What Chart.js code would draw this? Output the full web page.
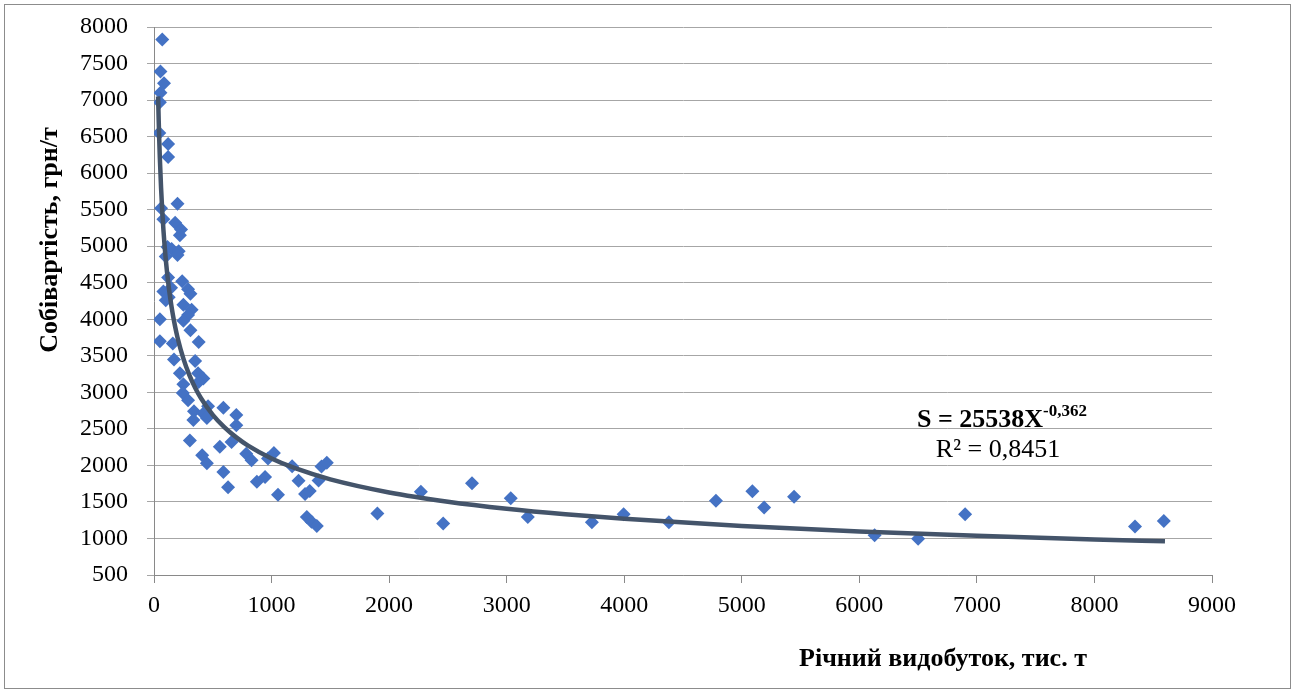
<!DOCTYPE html>
<html lang="uk">
<head>
  <meta charset="UTF-8" />
  <title>Собівартість vs річний видобуток</title>
  <style>
    body { margin: 0; background: #fff; }
    #wrap { position: relative; width: 1293px; height: 691px; }
    #frame { position: absolute; left: 4px; top: 4px; width: 1285px; height: 683px; border: 1px solid #8c8c8c; pointer-events: none; }
    canvas { position: absolute; left: 0; top: 0; }
  </style>
</head>
<body>
  <div id="wrap">
    <canvas id="chart" width="1293" height="691"></canvas>
    <div id="frame"></div>
  </div>

  <script src="https://cdn.jsdelivr.net/npm/chart.js"></script>
  <script>
    // річний видобуток, тис. т
    const output = [
      70, 55, 85, 55, 50, 45, 120, 120,
      200, 60, 80, 180, 230, 220,
      115, 150, 210, 100, 200,
      120, 240, 80, 145, 290, 310, 125, 250, 100,
      320, 290, 50, 250, 310, 50, 160, 380,
      170, 350, 220, 375, 420, 250, 245, 380,
      290, 460, 590, 340, 420, 700, 335, 450, 700,
      305, 560, 660, 410, 450, 785, 830, 1020, 970,
      590, 630, 875, 945, 1055,
      1175, 1230, 1285, 1325, 1400, 1425, 1470,
      1300, 1340, 1385,
      1900, 2270, 2460, 2705, 3035, 3180, 3725, 3995, 4380,
      4780, 5090, 5190, 5445, 6130, 6500, 6900, 8345, 8590
    ];
    // собівартість, грн/т
    const cost = [
      7830, 7390, 7230, 7100, 6970, 6550, 6400, 6220,
      5580, 5520, 5370, 5320, 5230, 5150,
      4990, 4960, 4930, 4860, 4880,
      4570, 4520, 4380, 4430, 4410, 4350, 4300, 4200, 4260,
      4130, 4060, 4000, 3980, 3850, 3700, 3670, 3690,
      3450, 3430, 3260, 3260, 3190, 3110, 2990, 3140,
      2890, 2810, 2790, 2740, 2710, 2690, 2620, 2650, 2550,
      2340, 2255, 2320, 2140, 2030, 2160, 2070, 2170, 2095,
      1910, 1700, 1775, 1840, 1600,
      1990, 1790, 1610, 1650, 1795, 1985, 2035,
      1295, 1230, 1170,
      1340, 1640, 1205, 1757, 1552, 1295, 1223, 1330, 1223,
      1515, 1645, 1425, 1572, 1045, 995, 1330, 1165, 1240
    ];
    // степенева лінія тренду S = 25538 X^-0,362
    const trendA = 25538;
    const trendB = -0.362;
    const trendX = [35, 40, 45, 50, 60, 70, 80, 90, 100, 120, 140, 160, 180, 200, 250, 300, 350, 400,
      500, 600, 700, 800, 1000, 1200, 1500, 2000, 2500, 3000, 3500, 4000, 5000, 6000, 7000, 8000, 8600];

    const yTicks = [500, 8000, 500]; // min, max, step
    const xTicks = [0, 9000, 1000];

    const scatterPts = output.map((x, i) => ({ x: x, y: cost[i] }));
    const trendPts = trendX.map(x => ({ x: x, y: trendA * Math.pow(x, trendB) }));

    const serif = '"Liberation Serif", "Times New Roman", serif';

    const textPlugin = {
      id: 'texts',
      afterDraw(chart) {
        const ctx = chart.ctx;
        ctx.save();
        ctx.fillStyle = '#000';
        ctx.textBaseline = 'alphabetic';

        // рівняння тренду
        const main = 'S = 25538X', sup = '-0,362';
        ctx.font = 'bold 17px ' + serif;
        const supW = ctx.measureText(sup).width;
        ctx.font = 'bold 26px ' + serif;
        const mainW = ctx.measureText(main).width;
        const right = 1087;
        ctx.textAlign = 'left';
        ctx.fillText(main, right - supW - mainW, 427);
        ctx.font = 'bold 17px ' + serif;
        ctx.fillText(sup, right - supW, 416);

        ctx.font = '26px ' + serif;
        ctx.textAlign = 'center';
        ctx.fillText('R² = 0,8451', 998, 457);

        // назви осей
        ctx.font = 'bold 26px ' + serif;
        ctx.fillText('Річний видобуток, тис. т', 943, 666);
        ctx.translate(50, 240);
        ctx.rotate(-Math.PI / 2);
        ctx.textBaseline = 'middle';
        ctx.fillText('Собівартість, грн/т', 0, 0);
        ctx.restore();
      }
    };

    new Chart(document.getElementById('chart').getContext('2d'), {
      data: {
        datasets: [
          {
            type: 'line', label: 'trend', data: trendPts, order: 0,
            borderColor: '#44546a', borderWidth: 4.5, pointRadius: 0,
            cubicInterpolationMode: 'monotone', fill: false
          },
          {
            type: 'scatter', label: 'data', data: scatterPts, order: 1,
            pointStyle: 'rectRot', pointRadius: 7, pointBorderWidth: 0,
            backgroundColor: '#4472c4', borderColor: '#4472c4'
          }
        ]
      },
      options: {
        responsive: false,
        animation: false,
        layout: { padding: { left: 30, right: 81, top: 27, bottom: 0 } },
        plugins: { legend: { display: false }, tooltip: { enabled: false } },
        scales: {
          x: {
            type: 'linear', min: xTicks[0], max: xTicks[1],
            afterFit: s => { s.height = 116; },
            border: { color: '#898989', width: 1 },
            grid: { drawOnChartArea: false, drawTicks: true, tickLength: 8, color: '#898989' },
            ticks: { stepSize: xTicks[2], color: '#000', padding: 8, maxRotation: 0,
              callback: v => String(v),
              font: { family: serif, size: 24 } }
          },
          y: {
            type: 'linear', min: yTicks[0], max: yTicks[1],
            afterFit: s => { s.width = 124; s.paddingTop = 0; s.paddingBottom = 0; },
            border: { color: '#898989', width: 1 },
            grid: { color: '#a6a6a6', tickLength: 7 },
            ticks: { stepSize: yTicks[2], color: '#000', padding: 19,
              callback: v => String(v),
              font: { family: serif, size: 24 } }
          }
        }
      },
      plugins: [textPlugin]
    });
  </script>
</body>
</html>
